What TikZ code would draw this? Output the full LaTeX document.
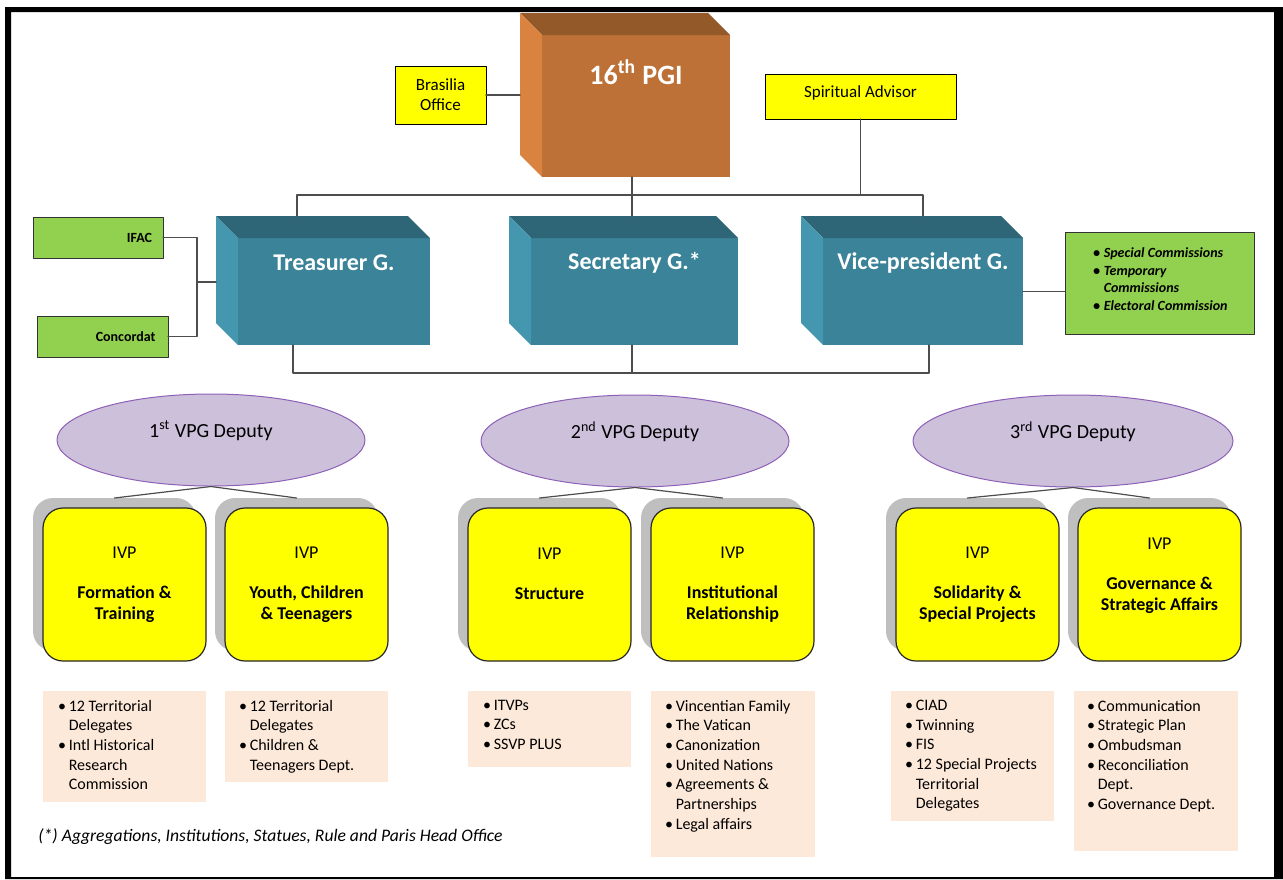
\documentclass[tikz,border=0pt]{standalone}
\usepackage{fontspec}
\setmainfont{Carlito}
\usetikzlibrary{shapes.geometric,shadows,positioning}

\definecolor{pgifront}{HTML}{BD7136}
\definecolor{pgitop}{HTML}{935929}
\definecolor{pgiside}{HTML}{DA8240}
\definecolor{tealfront}{HTML}{3A8398}
\definecolor{tealtop}{HTML}{2E6677}
\definecolor{tealside}{HTML}{4497AE}
\definecolor{grn}{HTML}{92D050}
\definecolor{ylw}{HTML}{FFFF00}
\definecolor{lilac}{HTML}{CCC0DA}
\definecolor{lilacline}{HTML}{8E60B8}
\definecolor{peach}{HTML}{FDE9D9}
\definecolor{shade}{HTML}{BFBFBF}
\definecolor{linegray}{HTML}{4D4D4D}

\newcommand{\bitem}[1]{\hangindent=5.4pt\hangafter=1\noindent\makebox[5.4pt][l]{\textbullet}#1\par}

\begin{document}
\begin{tikzpicture}[x=0.5pt,y=-0.5pt,line cap=round,line join=round,
    conn/.style={draw=linegray,line width=0.7pt},
    face/.style={inner sep=0pt,outer sep=0pt,anchor=north west},
    headtxt/.style={text=white,font=\bfseries\fontsize{12}{14}\selectfont},
    ybox/.style={face,draw=black,line width=0.5pt,fill=ylw,align=center,
        font=\fontsize{8.5}{10}\selectfont},
    gbox/.style={face,draw=black!80,line width=0.5pt,fill=grn},
    deputy/.style={ellipse,draw=lilacline,line width=0.5pt,fill=lilac,inner sep=0pt,
        minimum width=154pt,minimum height=46pt,text depth=11pt,
        font=\fontsize{10}{12}\selectfont},
    ivpbox/.style={face,draw=black!85,line width=0.6pt,fill=ylw,rounded corners=10pt,
        minimum width=81.5pt,minimum height=76.5pt,align=center,
        font=\fontsize{9}{10.5}\selectfont,
        drop shadow={shadow xshift=-5pt,shadow yshift=5pt,fill=shade,opacity=1}},
    listbox/.style={face,fill=peach,minimum width=81.5pt},
    listtxt/.style={face,text width=74pt,align=flush left,font=\fontsize{8}{9.85}\selectfont}]

    \useasboundingbox (0,0) rectangle (1283,879);
    % frame
    \fill[black,even odd rule] (5,7) rectangle (1283,879) (11,12) rectangle (1274,877);

    % 16th PGI
    \node[face,fill=pgifront,minimum width=94pt,minimum height=71pt] (pgi) at (542,35) {};
    \fill[pgitop] (pgi.north west) -- ++(-22,-22) -- ([shift={(-22,-22)}]pgi.north east) -- (pgi.north east) -- cycle;
    \fill[pgiside] (pgi.north west) -- ++(-22,-22) -- ([shift={(-22,-22)}]pgi.south west) -- (pgi.south west) -- cycle;
    \node[text=white,font=\bfseries\fontsize{14}{16}\selectfont] (pgilbl) at ([shift={(0,37)}]pgi.north) {16\textsuperscript{th} PGI};

    \node[ybox,minimum width=45.5pt,minimum height=29pt] (bra) at (395,66) {Brasilia\\Office};
    \node[ybox,minimum width=95.5pt,minimum height=22.5pt,text depth=5pt] (spa) at (765,74) {Spiritual Advisor};

    % teal boxes
    \foreach \nm/\xl/\bw/\txt in {tre/238/96pt/Treasurer G., sec/531/103.5pt/Secretary G.*, vic/823/100pt/Vice-president G.}{
        \node[face,fill=tealfront,minimum width=\bw,minimum height=53.5pt] (\nm) at (\xl,238) {};
        \fill[tealtop] (\nm.north west) -- ++(-22,-22) -- ([shift={(-22,-22)}]\nm.north east) -- (\nm.north east) -- cycle;
        \fill[tealside] (\nm.north west) -- ++(-22,-22) -- ([shift={(-22,-22)}]\nm.south west) -- (\nm.south west) -- cycle;
        \node[headtxt] (\nm lbl) at ([shift={(0,25)}]\nm.north) {\txt};
    }

    \node[gbox,minimum width=65pt,minimum height=20.5pt,text width=54pt,inner xsep=5.5pt,align=right,
        font=\bfseries\fontsize{7}{8}\selectfont] (ifac) at (33,217) {IFAC};
    \node[gbox,minimum width=65.5pt,minimum height=20.5pt,text width=53pt,inner xsep=6.25pt,align=right,
        font=\bfseries\fontsize{7}{8}\selectfont] (conc) at (37,316) {Concordat};
    \node[gbox,minimum width=94.5pt,minimum height=51pt] (spc) at (1065,232) {};
    \node[face,text width=80pt,align=flush left,font=\bfseries\itshape\fontsize{7}{8.75}\selectfont] (spctxt) at (1093,248)
        {\bitem{Special Commissions}\bitem{Temporary\newline Commissions}\bitem{Electoral Commission}};

    % connectors top
    \coordinate (bus) at (0,195);
    \coordinate (bbus) at (0,373);
    \coordinate (treTop) at (297,216);
    \coordinate (secTop) at (632,216);
    \coordinate (vicTop) at (923,216);
    \coordinate (treBot) at (293,345);
    \coordinate (vicBot) at (929,345);
    \coordinate (pgiedge) at ([shift={(-22,0)}]pgi.west);
    \coordinate (lfork) at (197,282);
    \coordinate (treside) at ([shift={(-22,0)}]tre.west);

    \draw[conn] (bra.east) -- (bra.east -| pgiedge);
    \draw[conn] (spa.south) -- (spa.south |- bus);
    \draw[conn] (pgi.south -| secTop) -- (secTop);
    \draw[conn] (treTop) -- (treTop |- bus) -- (vicTop |- bus) -- (vicTop);
    \draw[conn] (treBot) -- (treBot |- bbus) -- (vicBot |- bbus) -- (vicBot);
    \draw[conn] (sec.south -| secTop) -- (secTop |- bbus);
    \draw[conn] (ifac.east) -- (ifac.east -| lfork) -- (conc.east -| lfork) -- (conc.east);
    \draw[conn] (lfork) -- (lfork -| treside);
    \draw[conn] (vic.east) -- (vic.east -| spc.west);

    % deputies
    \node[deputy] (dep1) at (211,440) {1\textsuperscript{st} VPG Deputy};
    \node[deputy] (dep2) at (635,441) {2\textsuperscript{nd} VPG Deputy};
    \node[deputy,minimum width=160pt] (dep3) at (1073,441) {3\textsuperscript{rd} VPG Deputy};

    % IVP boxes
    \node[ivpbox] (ivp1) at (43,508) {IVP\\[9.5pt]\textbf{Formation \&}\\\textbf{Training}};
    \node[ivpbox] (ivp2) at (225,508) {IVP\\[9.5pt]\textbf{Youth, Children}\\\textbf{\& Teenagers}};
    \node[ivpbox] (ivp3) at (468,508) {IVP\\[9.5pt]\textbf{Structure}\\\mbox{}};
    \node[ivpbox] (ivp4) at (651,508) {IVP\\[9.5pt]\textbf{Institutional}\\\textbf{Relationship}};
    \node[ivpbox] (ivp5) at (896,508) {IVP\\[9.5pt]\textbf{Solidarity \&}\\\textbf{Special Projects}};
    \node[ivpbox] (ivp6) at (1078,508) {IVP\\[9.5pt]\textbf{Governance \&}\\\textbf{Strategic Affairs}\\\mbox{}};

    \foreach \dd/\ya/\yb in {dep1/ivp1/ivp2, dep2/ivp3/ivp4, dep3/ivp5/ivp6}{
        \draw[conn,line width=0.6pt] ([shift={(-10,-10)}]\ya.north) -- (\dd.south) -- ([shift={(-10,-10)}]\yb.north);
    }

    % lists
    \node[listbox,minimum height=55.5pt] (lA) at (43,691) {};
    \node[listbox,minimum height=45.5pt] (lB) at (225,691) {};
    \node[listbox,minimum height=38pt] (lD) at (468,691) {};
    \node[listbox,minimum width=82pt,minimum height=83pt] (lC) at (651,691) {};
    \node[listbox,minimum height=65pt] (lE) at (891,691) {};
    \node[listbox,minimum width=82pt,minimum height=80pt] (lF) at (1074,691) {};

    \node[listtxt] (lAtxt) at ([shift={(15,9)}]lA.north west)
        {\bitem{12 Territorial\newline Delegates}\bitem{Intl Historical\newline Research\newline Commission}};
    \node[listtxt] (lBtxt) at ([shift={(14,9)}]lB.north west)
        {\bitem{12 Territorial\newline Delegates}\bitem{Children \&\newline Teenagers Dept.}};
    \node[listtxt] (lDtxt) at ([shift={(15,9)}]lD.north west)
        {\bitem{ITVPs}\bitem{ZCs}\bitem{SSVP PLUS}};
    \node[listtxt] (lCtxt) at ([shift={(14,9)}]lC.north west)
        {\bitem{Vincentian Family}\bitem{The Vatican}\bitem{Canonization}\bitem{United Nations}\bitem{Agreements \&\newline Partnerships}\bitem{Legal affairs}};
    \node[listtxt] (lEtxt) at ([shift={(14,9)}]lE.north west)
        {\bitem{CIAD}\bitem{Twinning}\bitem{FIS}\bitem{12 Special Projects\newline Territorial\newline Delegates}};
    \node[listtxt] (lFtxt) at ([shift={(13,9)}]lF.north west)
        {\bitem{Communication}\bitem{Strategic Plan}\bitem{Ombudsman}\bitem{Reconciliation\newline Dept.}\bitem{Governance Dept.}};

    \node[anchor=west,inner sep=0pt,font=\itshape\fontsize{8.8}{10}\selectfont] (note) at (38,837)
        {(*) Aggregations, Institutions, Statues, Rule and Paris Head Office};
\end{tikzpicture}
\end{document}
